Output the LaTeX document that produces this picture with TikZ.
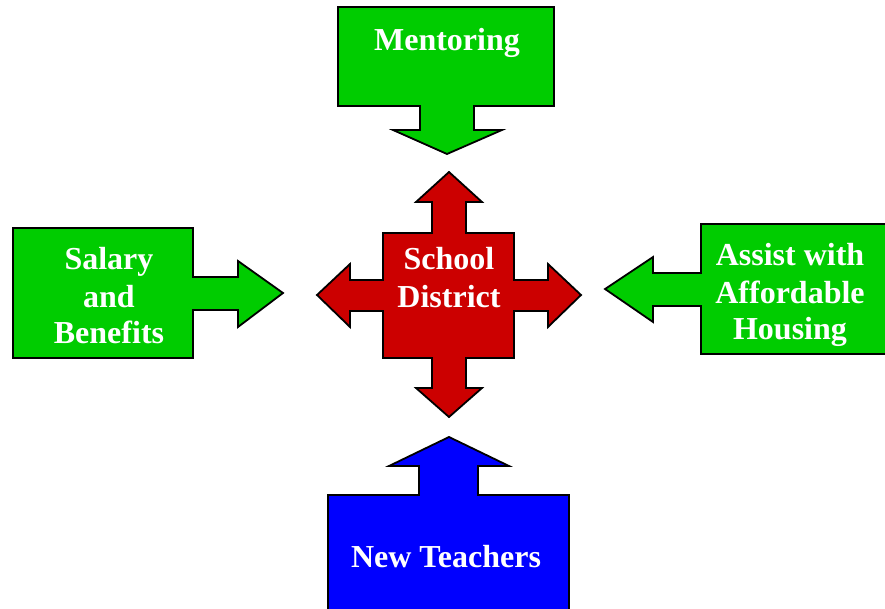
\documentclass[tikz,border=0pt]{standalone}
\usepackage{fontspec}
\setmainfont{Liberation Serif}
\definecolor{boxgreen}{RGB}{0,204,0}
\definecolor{boxred}{RGB}{204,0,0}
\definecolor{boxblue}{RGB}{0,0,255}
\tikzset{
  callout/.style={draw=black, line width=1.8pt, line join=miter},
  label/.style={text=white, font=\fontsize{32}{36}\selectfont\bfseries, align=center, anchor=base, inner sep=0pt}
}
\begin{document}
\begin{tikzpicture}[x=1pt,y=-1pt]
\useasboundingbox (0,0) rectangle (885,609);
% Mentoring (top)
\draw[callout, fill=boxgreen] (338,7) -- (554,7) -- (554,106) -- (474,106) -- (474,130) -- (502,130)
  -- (447,154) -- (393,130) -- (420,130) -- (420,106) -- (338,106) -- cycle;
\node[label] (mentoring) at (447,51) {Mentoring};
% Salary (left)
\draw[callout, fill=boxgreen] (13,228) -- (193,228) -- (193,277) -- (238,277) -- (238,261) -- (283,293)
  -- (238,327) -- (238,310) -- (193,310) -- (193,358) -- (13,358) -- cycle;
\node[label] (salary1) at (109,270) {Salary};
\node[label] (salary2) at (109,307) {and};
\node[label] (salary3) at (109,343) {Benefits};
% Assist (right)
\draw[callout, fill=boxgreen] (890,224) -- (701,224) -- (701,273) -- (653,273) -- (653,257) -- (605,289)
  -- (653,322) -- (653,306) -- (701,306) -- (701,354) -- (890,354) -- cycle;
\node[label] (assist1) at (790,266) {Assist with};
\node[label] (assist2) at (790,303) {Affordable};
\node[label] (assist3) at (790,339) {Housing};
% New Teachers (bottom)
\draw[callout, fill=boxblue] (328,615) -- (328,495) -- (419,495) -- (419,466) -- (389,466) -- (449,437)
  -- (509,466) -- (478,466) -- (478,495) -- (569,495) -- (569,615) -- cycle;
\node[label] (teachers) at (446,567) {New Teachers};
% School District (center)
\draw[callout, fill=boxred] (383,233) -- (432,233) -- (432,202) -- (416,202) -- (449,172) -- (482,202)
  -- (466,202) -- (466,233) -- (514,233) -- (514,280) -- (548,280) -- (548,264) -- (581,295)
  -- (548,327) -- (548,311) -- (514,311) -- (514,358) -- (466,358) -- (466,388) -- (482,388)
  -- (449,417) -- (416,388) -- (432,388) -- (432,358) -- (383,358) -- (383,311) -- (350,311)
  -- (350,327) -- (317,295) -- (350,264) -- (350,280) -- (383,280) -- cycle;
\node[label] (school1) at (449,270) {School};
\node[label] (school2) at (449,307) {District};
\end{tikzpicture}
\end{document}
